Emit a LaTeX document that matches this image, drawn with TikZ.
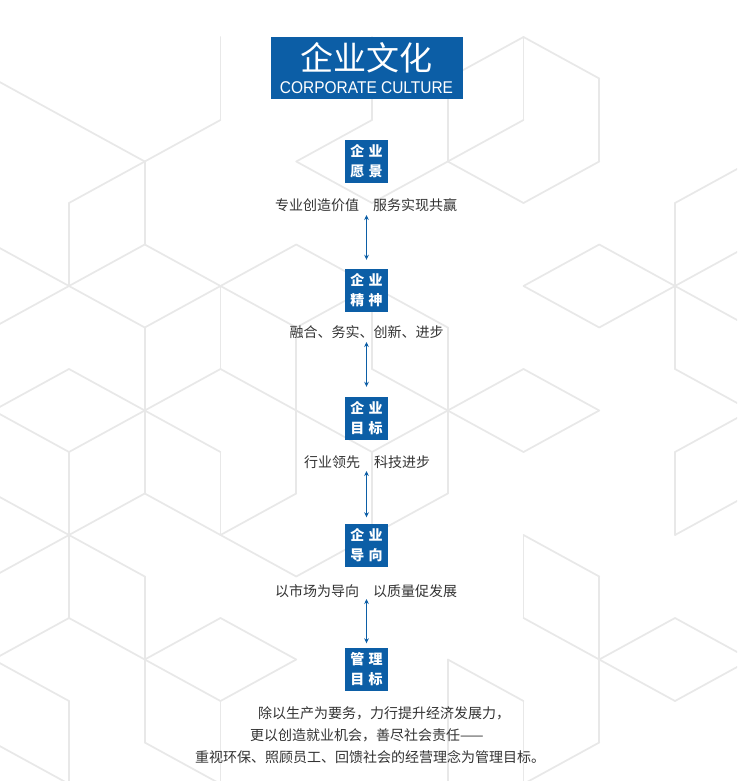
\documentclass[tikz,border=0pt]{standalone}
\usepackage{fontspec}
\setmainfont{Liberation Sans}
\newfontfamily\cjk{Noto Sans CJK SC}
\usetikzlibrary{arrows.meta,calc}
\definecolor{cblue}{RGB}{12,94,166}
\definecolor{ctext}{RGB}{51,51,51}
\definecolor{cline}{RGB}{232,232,232}
\begin{document}
\begin{tikzpicture}[x=1pt,y=-1pt,
  bgline/.style={draw=cline,line width=1.7pt,line cap=round},
  titlebox/.style={fill=cblue,minimum width=192pt,minimum height=62pt,inner sep=0pt},
  smallbox/.style={fill=cblue,minimum width=43pt,minimum height=43pt,inner sep=0pt,text=white,font=\cjk\bfseries\fontsize{14}{20}\selectfont,align=center},
  desc/.style={text=ctext,font=\cjk\fontsize{14}{20}\selectfont,inner sep=0pt,anchor=base},
  para/.style={text=ctext,font=\cjk\fontsize{14}{20}\selectfont,inner sep=0pt,anchor=base west},
  arr/.style={draw=cblue,line width=0.9pt,<->,>={Stealth[length=5pt,width=4.6pt]}}
]
\useasboundingbox[fill=white] (0,0) rectangle (737,781);
\begin{scope}
\clip (0,0) rectangle (737,781);
\foreach \a/\b/\c/\d in {
-1/-1/0/0, 0/0/1/1, 2/-2/2/0, 2/0/1/1, 1/1/1/3, 1/1/0/2, 0/2/0/4, -1/3/0/4,
1/3/2/4, 0/4/1/3, 0/4/1/5, 0/4/-1/5, 1/5/1/7, 1/5/2/4, 2/4/3/3, 2/4/2/6,
2/4/3/5, 3/5/3/7, 3/7/3/9, 4/4/5/5, 2/6/3/7, 3/7/4/8, 1/7/2/6, 0/6/1/7,
1/7/2/8, 0/8/1/7, 1/7/1/9, 0/6/-1/7, -1/7/0/8, 0/8/0/10, -1/9/0/10, 2/8/2/10,
1/9/0/10, -1/11/0/10, 0/10/1/11, 0/10/0/12, 1/11/1/13, 1/9/2/10, 2/10/3/11,
2/10/3/9, 3/11/4/10, -1/13/0/12, 0/12/1/13, -1/13/0/14, 0/14/0/16, 1/13/2/12,
1/13/2/14, 1/13/1/15, 2/12/3/13, 3/13/2/14, 2/14/2/16, 1/15/2/16, -1/15/0/16,
4/-2/4/0, 3/1/4/0, 3/1/4/2, 4/2/5/1, 5/-1/6/-2, 6/-2/7/-1, 6/-2/6/0, 7/-1/7/1,
5/-1/5/1, 6/0/5/1, 5/1/6/2, 6/2/7/1, 8/2/9/1, 8/2/8/4, 7/3/6/4, 7/3/8/4,
8/4/9/3, 8/4/7/5, 8/4/9/5, 8/4/8/6, 6/4/7/5, 8/6/9/7, 9/7/8/8, 8/8/8/10,
8/10/9/9, 5/7/6/6, 6/6/7/7, 7/7/6/8, 6/8/5/7, 5/5/5/7, 5/7/5/9, 3/3/4/4,
3/5/4/4, 4/4/4/6, 4/6/5/7, 5/7/4/8, 5/9/4/10, 4/8/4/10, 6/10/6/12, 6/10/7/11,
7/11/7/13, 6/12/7/13, 7/13/8/12, 8/12/9/13, 7/13/8/14, 8/14/9/13, 7/13/7/15,
7/15/6/16, 5/13/6/14, 5/13/5/15, 5/15/5/17, 6/14/6/16}
  \draw[bgline] ({69+75.75*\a},{120+41.5*\b}) -- ({69+75.75*\c},{120+41.5*\d});
\end{scope}

\node[titlebox] (title) at (367,68) {};
\node[font=\cjk\fontsize{33}{33}\selectfont,text=white,anchor=base,inner sep=0pt] (titlecn) at (366,71) {企业文化};
\node[font=\fontsize{17}{17}\selectfont,text=white,anchor=base,inner sep=0pt] (titleen) at (366.5,94) {\scalebox{0.91}[1]{CORPORATE CULTURE}};

\node[smallbox] (b1) at (366.5,161.5) {企\hspace{4.5pt}业\\愿\hspace{4.5pt}景};
\node[smallbox] (b2) at (366.5,290.5) {企\hspace{4.5pt}业\\精\hspace{4.5pt}神};
\node[smallbox] (b3) at (366.5,418.5) {企\hspace{4.5pt}业\\目\hspace{4.5pt}标};
\node[smallbox] (b4) at (366.5,545) {企\hspace{4.5pt}业\\导\hspace{4.5pt}向};
\node[smallbox] (b5) at (366.5,669) {管\hspace{4.5pt}理\\目\hspace{4.5pt}标};

\node[desc] (t1) at (366,210.3) {专业创造价值　服务实现共赢};
\node[desc] (t2) at (366.5,337.8) {融合、务实、创新、进步};
\node[desc] (t3) at (367,467.3) {行业领先　科技进步};
\node[desc] (t4) at (366,596.3) {以市场为导向　以质量促发展};

\node[para] (p1) at (258,718.3) {除以生产为要务，力行提升经济发展力，};
\node[para] (p2) at (250,740.3) {更以创造就业机会，善尽社会责任——};
\node[para] (p3) at (195,762.3) {重视环保、照顾员工、回馈社会的经营理念为管理目标。};

\draw[arr] ($(t1.base -| b2.north)+(0,4.7)$) -- ($(b2.north)+(0,-9)$);
\draw[arr] ($(t2.base -| b3.north)+(0,4.2)$) -- ($(b3.north)+(0,-10)$);
\draw[arr] ($(t3.base -| b4.north)+(0,3.7)$) -- ($(b4.north)+(0,-6)$);
\draw[arr] ($(t4.base -| b5.north)+(0,2.7)$) -- ($(b5.north)+(0,-4)$);
\end{tikzpicture}
\end{document}
